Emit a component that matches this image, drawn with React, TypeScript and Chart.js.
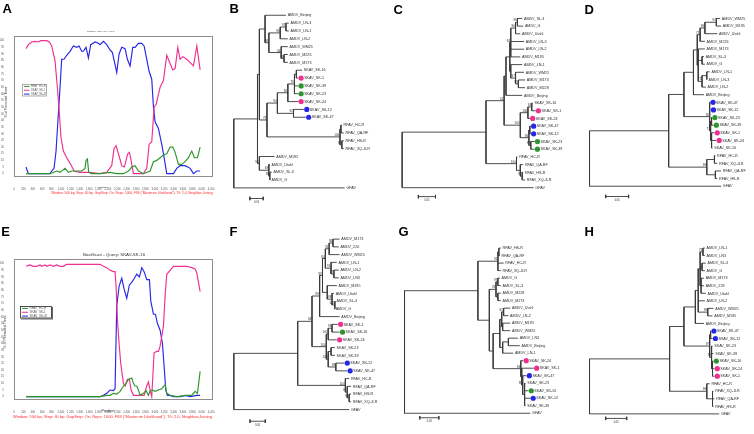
import React, { useEffect, useRef } from "react";
import { Chart, registerables } from "chart.js";
Chart.register(...registerables);

const FONT = "'Liberation Sans', Arial, Helvetica, sans-serif";
const PINK = "#f0308e";
const BLUE = "#2626e6";
const GREEN = "#2e952e";
const DOT: Record<string, string> = { p: PINK, g: GREEN, b: BLUE };

// ---------------- BootScan data ----------------
const xTickValues = [0, 200, 400, 600, 800, 1000, 1200, 1400, 1600, 1800, 2000, 2200, 2400, 2600, 2800, 3000, 3200, 3400, 3600, 3800, 4000, 4200];
const yTickValues = [0, 5, 10, 15, 20, 25, 30, 35, 40, 45, 50, 55, 60, 65, 70, 75, 80, 85, 90, 95, 100];
const legendLabels = ["RFAV_HC-R", "SKAV_SK-1", "SKAV_SK-47"];
const titleA = "BootScan - Query: SKAV_SK-39";
const titleE = "BootScan - Query: SKAV-SK-16";
const xTitle = "Position";
const yTitle = "% of Permuted Trees";
const footnote = 'Window: 500 bp, Step: 40 bp, GapStrip: On, Reps: 1000, F84 ("Maximum Likelihood"), T/t: 2.0, Neighbor-Joining';

const aGreenPos = [256, 768, 910, 981, 1087, 1158, 1229, 1372, 1443, 1514, 1535, 1564, 1592, 1656, 1834, 2047, 2189, 2331, 2438, 2509, 2580, 2651, 2757, 2900, 2971, 3042, 3113, 3184, 3255, 3326, 3383, 3433, 3504, 3575, 3646, 3717, 3788, 3845, 3909, 3966];
const aGreenVal = [0, 0, 2, 1, 4, 1, 2, 2, 2, 4, 10, 11, 1, 0, 0, 1, 0, 0, 2, 5, 6, 2, 0, 2, 9, 10, 12, 14, 15, 20, 20, 16, 7, 7, 9, 12, 17, 12, 12, 20];
const aPinkPos = [256, 306, 377, 448, 519, 569, 697, 753, 803, 874, 924, 967, 1002, 1052, 1123, 1208, 1279, 1407, 1600, 1834, 1976, 2082, 2132, 2175, 2225, 2296, 2352, 2424, 2459, 2495, 2544, 2757, 2829, 2878, 2935, 2985, 3028, 3113, 3184, 3255, 3312, 3383, 3433, 3490, 3539, 3596, 3681, 3824, 3895, 3966];
const aPinkVal = [94, 97, 99, 99.5, 99, 100, 100, 99, 96, 85, 65, 45, 27, 17, 12, 7, 2, 1, 1, 0, 1, 6, 19, 21, 15, 6, 5, 15, 16, 10, 0, 0, 4, 22, 24, 50, 52, 65, 70, 89, 84, 78, 79, 95, 86, 88, 86, 81, 96, 78];
const aBluePos = [256, 306, 768, 803, 853, 896, 945, 981, 1016, 1066, 1123, 1194, 1265, 1336, 1386, 1443, 1478, 1535, 1585, 1635, 1727, 1798, 1834, 1905, 1976, 2047, 2097, 2153, 2189, 2239, 2296, 2367, 2416, 2473, 2530, 2580, 2651, 2722, 2772, 2829, 2878, 2935, 2971, 3006, 3077, 3148, 3184, 3255, 3397, 3468, 3539, 3646, 3753, 3824, 3895, 3966];
const aBlueVal = [5, 0, 0, 2, 4, 17, 45, 65, 86, 86, 89, 92, 96, 95, 96, 92, 92, 95, 87, 97, 99, 98, 97, 99.5, 97, 93, 91, 82, 76, 90, 95, 94, 86, 81, 95, 95, 98, 98, 96, 86, 77, 71, 50, 39, 34, 22, 15, 0, 0, 4, 6, 6, 4, 0, 2, 2];

const eGreenPos = [256, 1834, 1976, 2047, 2118, 2189, 2260, 2331, 2388, 2438, 2509, 2544, 2580, 2615, 2651, 2686, 2757, 2814, 2864, 2900, 2957, 3006, 3077, 3148, 3220, 3255, 3326, 3468, 3681, 3788, 3859, 3909, 3966];
const eGreenVal = [0, 0, 1, 1, 2.5, 2, 4, 8, 10, 13, 14, 10, 8, 8, 5, 1, 2.5, 4.5, 1, 4.5, 5, 4, 5, 6, 9, 2.5, 1, 0, 1, 1, 4, 2.5, 19];
const ePinkPos = [256, 341, 412, 483, 554, 590, 661, 697, 768, 839, 910, 981, 1052, 1123, 1478, 1834, 1905, 1976, 2047, 2118, 2153, 2175, 2203, 2239, 2274, 2331, 2367, 2416, 2459, 2495, 2544, 2686, 2772, 2829, 2864, 2900, 2935, 2985, 3042, 3077, 3113, 3184, 3220, 3255, 3326, 3397, 3539, 3681, 3788, 3859, 3895, 3966];
const ePinkVal = [98, 99, 98, 98, 99, 98, 99, 98, 99, 98, 99, 98, 98, 99.5, 99.5, 99.5, 98, 97, 95, 94, 94, 83, 58, 40, 25, 10, 8, 13, 13, 5, 1, 1, 1, 8, 11, 5, 0, 33, 34, 34, 38, 53, 76, 92, 95, 98, 98, 98, 97, 96, 93, 79];
const eBluePos = [256, 1834, 1905, 1976, 2047, 2118, 2153, 2189, 2239, 2296, 2345, 2402, 2459, 2509, 2566, 2615, 2672, 2722, 2772, 2829, 2885, 2914, 2971, 3013, 3056, 3113, 3163, 3198, 3234, 3269, 3326, 3397, 3539, 3646, 3753, 3895, 3966];
const eBlueVal = [0, 0, 1, 2.5, 5, 4.5, 6, 68, 83, 89, 81, 74, 84, 86, 89, 92, 90, 97, 94, 88, 88, 72, 62, 62, 55, 50, 40, 23, 5, 1, 1, 0, 0, 1, 0, 1, 1];

// ---------------- Tree data ----------------
type TNode = { d: number; n?: string; c?: TNode[]; s?: string; dot?: string };
const leaf = (n: string, d: number, dot?: string): TNode => ({ n, d, dot });
const node = (d: number, s: string, ...c: TNode[]): TNode => ({ d, s, c });
const scaleLabel = "0.05";

const treeB = node(0, "",
  node(25, "",
    node(27, "",
      node(33, "",
        leaf("AMDV_Beijing", 55),
        node(37, "98",
          node(49, "98",
            node(55, "97", leaf("AMDV_LN-3", 58), leaf("AMDV_LN-1", 58)),
            leaf("AMDV_LN-2", 57)),
          node(50, "64",
            leaf("AMDV_WM25", 57),
            node(53, "99", leaf("AMDV_M226", 57), leaf("AMDV_M173", 57))))),
      node(35, "73",
        node(46, "94",
          node(57, "80",
            node(64, "79",
              node(66, "", leaf("SKAV_SK-16", 72), leaf("SKAV_SK-1", 68, "p")),
              leaf("SKAV_SK-39", 68, "g"),
              leaf("SKAV_SK-23", 68, "g")),
            leaf("SKAV_SK-24", 68, "p")),
          node(63, "92", leaf("SKAV_SK-12", 74, "b"), leaf("SKAV_SK-47", 76, "b"))),
        node(112, "100",
          node(113, "", leaf("RFAV_HC-R", 114), leaf("RFAV_QA-RF", 116)),
          node(114, "78", leaf("RFAV_HS-R", 116), leaf("RFAV_XQ-JLR", 116))))),
    node(27, "94",
      leaf("AMDV_M195", 43),
      node(37, "69", leaf("AMDV_Utahl", 38), node(38, "98", leaf("AMDV_SL-3", 40), leaf("AMDV_G", 38))))),
  leaf("GFAV", 117));

const treeC = node(0, "",
  node(88, "",
    node(107, "62",
      node(109, "",
        node(113, "",
          node(114, "84",
            node(119, "96", node(121, "99", leaf("AMDV_SL-3", 126), leaf("AMDV_G", 127)), leaf("AMDV_Utahl", 124)),
            leaf("AMDV_LN-3", 128), leaf("AMDV_LN-2", 128), leaf("AMDV_M195", 124)),
          node(114, "",
            leaf("AMDV_LN-1", 126),
            node(119, "97", leaf("AMDV_WM25", 128), node(122, "99", leaf("AMDV_M173", 129), leaf("AMDV_M228", 129))))),
        leaf("AMDV_Beijing", 126)),
      node(124, "100",
        node(132, "100", node(136, "93", leaf("SKAV_SK-16", 137), leaf("SKAV_SK-1", 140, "p")), leaf("SKAV_SK-24", 134, "p")),
        node(133, "96",
          node(134, "", leaf("SKAV_SK-47", 135, "b"), leaf("SKAV_SK-12", 135, "b")),
          node(135, "97", leaf("SKAV_SK-23", 139, "g"), leaf("SKAV_SK-39", 139, "g"))))),
    node(120, "100", leaf("RFAV_HC-R", 121),
      node(124, "", leaf("RFAV_QA-RF", 127), node(126, "97", leaf("RFAV_HS-R", 127), leaf("RFAV_XQ-JLR", 129))))),
  leaf("GFAV", 138));

const treeD = node(0, "",
  node(83, "",
    node(99, "",
      node(109, "",
        node(113, "",
          node(116, "75",
            node(121, "96", node(133, "97", leaf("AMDV_WM25", 137), leaf("AMDV_M195", 138)), leaf("AMDV_Utahl", 134)),
            leaf("AMDV_M226", 121)),
          node(114, "",
            leaf("AMDV_M173", 121),
            node(118, "", leaf("AMDV_SL-3", 120), leaf("AMDV_G", 121)),
            node(118, "75", node(123, "", leaf("AMDV_LN-1", 126), leaf("AMDV_LN-3", 123)), leaf("AMDV_LN-2", 122)))),
        leaf("AMDV_Beijing", 120)),
      node(126, "92",
        leaf("SKAV_SK-47", 126.5, "b"), leaf("SKAV_SK-12", 127, "b"),
        node(127, "77",
          node(128, "", leaf("SKAV_SK-23", 128.5, "g"), leaf("SKAV_SK-39", 130, "g")),
          node(128, "", leaf("SKAV_SK-1", 131, "p"), leaf("SKAV_SK-24", 133, "p"), leaf("SKAV_SK-16", 129))))),
    node(123, "99",
      node(131, "", leaf("RFAV_HC-R", 132), leaf("RFAV_XQ-JLR", 134)),
      node(132, "", leaf("RFAV_QA-RF", 138), leaf("RFAV_HS-R", 134)))),
  leaf("GFAV", 138));

const treeF = node(0, "",
  node(67, "",
    node(82, "84",
      node(90, "89",
        node(93, "89",
          node(96, "84",
            node(100, "92", node(104, "98", leaf("AMDV_M173", 111), leaf("AMDV_220", 110)), leaf("AMDV_WM25", 111)),
            node(102, "95", leaf("AMDV_LN-1", 108), node(105, "87", leaf("AMDV_LN-2", 110), leaf("AMDV_LN3", 110)))),
          node(98, "", leaf("AMDV_M195", 108),
            node(103, "98", leaf("AMDV_Utahl", 105), node(106, "100", leaf("AMDV_SL-3", 106), leaf("AMDV_G", 105))))),
        leaf("AMDV_Beijing", 111)),
      node(97, "100",
        node(99, "100", node(103, "98", leaf("SKAV_SK-1", 109, "p"), leaf("SKAV_SK-16", 111, "g")), leaf("SKAV_SK-24", 108, "p")),
        node(99, "100",
          node(102, "", leaf("SKAV_SK-23", 106), leaf("SKAV_SK-39", 106)),
          node(107, "98", leaf("SKAV_SK-12", 116, "b"), leaf("SKAV_SK-47", 119, "b"))))),
    node(117, "100", leaf("RFAV_HC-R", 121),
      node(119, "81", leaf("RFAV_QA-RF", 123), node(121, "99", leaf("RFAV_HS-R", 123), leaf("RFAV_XQ-JLR", 123))))),
  leaf("GFAV", 121));

const treeG = node(0, "",
  node(77, "",
    node(98, "91", node(99, "", leaf("RFAV_HS-R", 101), leaf("RFAV_QA-RF", 100)), leaf("RFAV_HC-R", 104), leaf("RFAV_XQ-JLR", 101)),
    node(89, "",
      node(96, "33",
        node(98, "97", leaf("AMDV_G", 100), leaf("AMDV_SL-3", 101)),
        node(98, "", leaf("AMDV_M228", 101), leaf("AMDV_M173", 101))),
      node(93, "",
        node(100, "",
          node(102, "",
            node(104, "82", leaf("AMDV_Utahl", 111), leaf("AMDV_LN-2", 109)),
            node(103, "", leaf("AMDV_M195", 111), leaf("AMDV_WM25", 111))),
          node(103, "", node(109, "", leaf("AMDV_LN3", 119), leaf("AMDV_Beijing", 121)), leaf("AMDV_LN-1", 114))),
        node(122, "94",
          leaf("SKAV_SK-24", 124.7, "p"),
          node(123, "",
            leaf("SKAV_SK-1", 135.7, "p"),
            node(124, "88",
              leaf("SKAV_SK-47", 128, "b"),
              node(126, "", leaf("SKAV_SK-23", 127), leaf("SKAV_SK-16", 130, "g"), leaf("SKAV_SK-12", 132, "b"), leaf("SKAV_SK-39", 127)))))))),
  leaf("GFAV", 132));

const treeH = node(0, "",
  node(84, "",
    node(99, "",
      node(111, "",
        node(114, "",
          node(116, "",
            node(119, "73", leaf("AMDV_LN-1", 121), leaf("AMDV_LN3", 121)),
            node(118, "", leaf("AMDV_SL-3", 122), leaf("AMDV_G", 121)),
            node(117, "", leaf("AMDV_M173", 120), leaf("AMDV_228", 120), leaf("AMDV_Utahl", 122))),
          leaf("AMDV_LN-2", 121),
          node(124, "99", leaf("AMDV_WM25", 130), leaf("AMDV_M195", 129))),
        leaf("AMDV_Beijing", 120)),
      node(126, "97",
        node(127, "", leaf("SKAV_SK-47", 127.5, "b"), leaf("SKAV_SK-12", 129, "b")),
        node(128, "76", leaf("SKAV_SK-23", 129), leaf("SKAV_SK-39", 130),
          node(129, "", leaf("SKAV_SK-16", 130, "g"), leaf("SKAV_SK-24", 131, "p"), leaf("SKAV_SK-1", 131, "p"))))),
    node(123, "99", leaf("RFAV_HC-R", 126),
      node(129, "", leaf("RFAV_XQ-JLR", 130), leaf("RFAV_QA-RF", 131), leaf("RFAV_HS-R", 130)))),
  leaf("GFAV", 136));

// scale bar lengths (tree units corresponding to 0.05)
const scaleLenB = 14, scaleLenC = 18, scaleLenD = 24, scaleLenF = 16, scaleLenG = 20, scaleLenH = 22;

// ---------------- Layout (positions / sizes / styles) ----------------
type BootLayout = {
  left: number; top: number; width: number; height: number; padTop: number; padRight: number; xAxisH: number;
  tickSize: number; xTickPad: number; titleX: number; titleY: number; titleSize: number;
  xTitleX: number; xTitleY: number; xTitleSize: number; yTitleX: number; yTitleY: number; yTitleSize: number;
  noteX: number; noteY: number; noteSize: number;
  legend: { x: number; y: number; w: number; h: number; size: number; line: number; dark: boolean };
};
const layoutA: BootLayout = {
  left: 0, top: 0, width: 222, height: 200, padTop: 36, padRight: 9, xAxisH: 23, tickSize: 2.7, xTickPad: 3,
  titleX: 101, titleY: 31, titleSize: 1.9, xTitleX: 103, xTitleY: 187.5, xTitleSize: 2.4,
  yTitleX: 6, yTitleY: 102, yTitleSize: 3.3, noteX: 132, noteY: 193.5, noteSize: 3.25,
  legend: { x: 22, y: 84, w: 25, h: 12.5, size: 2.6, line: 5.5, dark: false },
};
const layoutE: BootLayout = {
  left: 0, top: 220, width: 222, height: 205, padTop: 39, padRight: 9, xAxisH: 25, tickSize: 2.7, xTickPad: 2.5,
  titleX: 114, titleY: 35, titleSize: 4.4, xTitleX: 108, xTitleY: 191, xTitleSize: 3.6,
  yTitleX: 5, yTitleY: 112, yTitleSize: 3.5, noteX: 112.5, noteY: 197, noteSize: 4,
  legend: { x: 20, y: 86, w: 32, h: 12.5, size: 3, line: 6, dark: true },
};

type TreeLayout = { left: number; top: number; width: number; height: number; rootX: number; firstY: number; step: number; barStart: number; barDy: number };
const layoutB: TreeLayout = { left: 226, top: 0, width: 154, height: 215, rootX: 230, firstY: 11.7, step: 8.15, barStart: 17, barDy: 1.35 };
const layoutC: TreeLayout = { left: 395, top: 0, width: 170, height: 215, rootX: 398.3, firstY: 15, step: 7.99, barStart: 17, barDy: 1.16 };
const layoutD: TreeLayout = { left: 582, top: 0, width: 172, height: 215, rootX: 585.7, firstY: 15, step: 7.92, barStart: 17, barDy: 1.35 };
const layoutF: TreeLayout = { left: 226, top: 220, width: 172, height: 214, rootX: 230, firstY: 235.7, step: 8.05, barStart: 17, barDy: 1.5 };
const layoutG: TreeLayout = { left: 397, top: 220, width: 170, height: 214, rootX: 400.7, firstY: 245, step: 7.8, barStart: 16, barDy: 0.6 };
const layoutH: TreeLayout = { left: 582, top: 220, width: 172, height: 214, rootX: 585.7, firstY: 245, step: 7.83, barStart: 17, barDy: 0.6 };

const letters = [
  { t: "A", x: 2.5, y: 1.5 }, { t: "B", x: 229.5, y: 2.3 }, { t: "C", x: 393.5, y: 3.3 }, { t: "D", x: 584.5, y: 3.3 },
  { t: "E", x: 1.2, y: 225 }, { t: "F", x: 229.5, y: 225.3 }, { t: "G", x: 398.5, y: 225.3 }, { t: "H", x: 584.5, y: 225.3 },
];

// ---------------- Chart builders ----------------
function bootConfig(title: string, series: { label: string; pos: number[]; val: number[]; color: string }[], L: BootLayout): any {
  const deco = {
    id: "bootDeco",
    afterDraw(chart: any) {
      const ctx = chart.ctx as CanvasRenderingContext2D;
      const a = chart.chartArea;
      ctx.save();
      ctx.strokeStyle = "#8e8e8e";
      ctx.lineWidth = 1;
      ctx.strokeRect(a.left + 0.5, a.top + 0.5, a.right - a.left - 1, a.bottom - a.top - 1);
      ctx.fillStyle = "#333";
      ctx.textAlign = "center";
      ctx.textBaseline = "middle";
      ctx.font = `${L.titleSize}px ${FONT}`;
      ctx.fillText(title, L.titleX, L.titleY);
      ctx.font = `${L.xTitleSize}px ${FONT}`;
      ctx.fillText(xTitle, L.xTitleX, L.xTitleY);
      ctx.save();
      ctx.translate(L.yTitleX, L.yTitleY);
      ctx.rotate(-Math.PI / 2);
      ctx.font = `${L.yTitleSize}px ${FONT}`;
      ctx.fillText(yTitle, 0, 0);
      ctx.restore();
      ctx.fillStyle = "#ff2b2b";
      ctx.font = `${L.noteSize}px ${FONT}`;
      ctx.fillText(footnote, L.noteX, L.noteY);
      // legend
      const g = L.legend;
      if (g.dark) {
        ctx.fillStyle = "#666";
        ctx.fillRect(g.x + 1, g.y + 1, g.w, g.h);
      }
      ctx.fillStyle = "#fff";
      ctx.fillRect(g.x, g.y, g.w, g.h);
      ctx.strokeStyle = g.dark ? "#222" : "#9a9a9a";
      ctx.lineWidth = 0.8;
      ctx.strokeRect(g.x + 0.5, g.y + 0.5, g.w - 1, g.h - 1);
      const ds = chart.data.datasets;
      const row = (g.h - 1) / ds.length;
      ds.forEach((d: any, i: number) => {
        const yy = g.y + 0.5 + row * (i + 0.5);
        ctx.strokeStyle = d.borderColor;
        ctx.lineWidth = 1;
        ctx.beginPath();
        ctx.moveTo(g.x + 2, yy);
        ctx.lineTo(g.x + 2 + g.line, yy);
        ctx.stroke();
        ctx.fillStyle = "#555";
        ctx.textAlign = "left";
        ctx.font = `${g.size}px ${FONT}`;
        ctx.fillText(d.label, g.x + 3.5 + g.line, yy);
      });
      ctx.restore();
    },
  };
  const tickFont = { family: FONT, size: L.tickSize };
  return {
    type: "line",
    data: {
      datasets: series.map((s) => ({
        label: s.label,
        data: s.pos.map((x, i) => ({ x, y: s.val[i] })),
        borderColor: s.color,
        backgroundColor: s.color,
        borderWidth: 1.15,
        pointRadius: 0,
        tension: 0,
        fill: false,
      })),
    },
    options: {
      animation: false,
      responsive: false,
      maintainAspectRatio: false,
      devicePixelRatio: 1,
      events: [],
      layout: { padding: { top: L.padTop, right: L.padRight, left: 0, bottom: 0 } },
      plugins: { legend: { display: false }, tooltip: { enabled: false }, title: { display: false } },
      scales: {
        x: {
          type: "linear", min: 0, max: 4240,
          grid: { display: false }, border: { display: false },
          afterBuildTicks: (s: any) => { s.ticks = xTickValues.map((v) => ({ value: v })); },
          afterFit: (s: any) => { s.height = L.xAxisH; },
          ticks: {
            autoSkip: false, maxRotation: 0, minRotation: 0, padding: L.xTickPad, color: "#555", font: tickFont,
            callback: (v: any) => Number(v).toLocaleString("en-US"),
          },
        },
        y: {
          type: "linear", min: -2.5, max: 103.5,
          grid: { display: false }, border: { display: false },
          afterBuildTicks: (s: any) => { s.ticks = yTickValues.map((v) => ({ value: v })); },
          afterFit: (s: any) => { s.width = 14; },
          ticks: { autoSkip: false, padding: 2, color: "#555", font: tickFont, callback: (v: any) => String(v) },
        },
      },
    },
    plugins: [deco],
  };
}

function treeConfig(root: TNode, scaleLen: number, L: TreeLayout): any {
  const Y = new Map<TNode, number>();
  const leaves: TNode[] = [];
  const internals: TNode[] = [];
  const walk = (n: TNode) => {
    if (!n.c) { Y.set(n, leaves.length); leaves.push(n); return; }
    n.c.forEach(walk);
    internals.push(n);
    Y.set(n, (Y.get(n.c[0])! + Y.get(n.c[n.c.length - 1])!) / 2);
  };
  walk(root);
  const GAP = { x: null, y: null };
  const branches: any[] = [];
  const segs = (n: TNode) => {
    if (!n.c) return;
    const ys = n.c.map((k) => Y.get(k)!);
    branches.push({ x: n.d, y: Math.min(...ys) }, { x: n.d, y: Math.max(...ys) }, GAP);
    n.c.forEach((k) => {
      branches.push({ x: n.d, y: Y.get(k)! }, { x: k.d, y: Y.get(k)! }, GAP);
      segs(k);
    });
  };
  segs(root);
  const yb = leaves.length - 1 + L.barDy;
  const s0 = L.barStart, s1 = L.barStart + scaleLen;
  const bar = [
    { x: s0, y: yb - 0.22 }, { x: s0, y: yb + 0.22 }, GAP,
    { x: s0, y: yb }, { x: s1, y: yb }, GAP,
    { x: s1, y: yb - 0.22 }, { x: s1, y: yb + 0.22 },
  ];
  const dotted = leaves.filter((l) => l.dot);
  const xOff = L.rootX - L.left;
  const yMin = -(L.firstY - L.top) / L.step;
  const labels = {
    id: "treeLabels",
    afterDatasetsDraw(chart: any) {
      const ctx = chart.ctx as CanvasRenderingContext2D;
      const xs = chart.scales.x, ysc = chart.scales.y;
      ctx.save();
      ctx.fillStyle = "#2e2e2e";
      ctx.textAlign = "left";
      ctx.textBaseline = "middle";
      ctx.font = `3.7px ${FONT}`;
      leaves.forEach((l) => {
        const px = xs.getPixelForValue(l.d + (l.dot ? 6.2 : 1.8));
        const py = ysc.getPixelForValue(Y.get(l)!);
        ctx.fillText(l.n!, px, py + 0.2);
      });
      ctx.font = `3px ${FONT}`;
      ctx.textAlign = "right";
      ctx.textBaseline = "bottom";
      internals.forEach((n) => {
        if (!n.s) return;
        ctx.fillText(n.s, xs.getPixelForValue(n.d) - 0.7, ysc.getPixelForValue(Y.get(n)!) - 0.2);
      });
      ctx.font = `2.6px ${FONT}`;
      ctx.textAlign = "center";
      ctx.textBaseline = "top";
      ctx.fillText(scaleLabel, xs.getPixelForValue((s0 + s1) / 2), ysc.getPixelForValue(yb) + 2.5);
      ctx.restore();
    },
  };
  return {
    type: "line",
    data: {
      datasets: [
        { data: branches, borderColor: "#3a3a3a", borderWidth: 0.9, pointRadius: 0, spanGaps: false, tension: 0, fill: false },
        { data: bar, borderColor: "#3a3a3a", borderWidth: 0.9, pointRadius: 0, spanGaps: false, tension: 0, fill: false },
        {
          data: dotted.map((l) => ({ x: l.d + 3, y: Y.get(l)! })),
          showLine: false, pointRadius: 2.6, pointBorderWidth: 0,
          pointBackgroundColor: dotted.map((l) => DOT[l.dot!]),
          borderColor: "rgba(0,0,0,0)",
        },
      ],
    },
    options: {
      animation: false,
      responsive: false,
      maintainAspectRatio: false,
      devicePixelRatio: 1,
      events: [],
      layout: { padding: 0 },
      plugins: { legend: { display: false }, tooltip: { enabled: false } },
      scales: {
        x: { type: "linear", display: false, min: -xOff, max: L.width - xOff },
        y: { type: "linear", display: false, min: yMin, max: yMin + L.height / L.step, reverse: true },
      },
    },
    plugins: [labels],
  };
}

function ChartCanvas(props: { left: number; top: number; width: number; height: number; make: () => any }) {
  const ref = useRef<HTMLCanvasElement>(null);
  useEffect(() => {
    const chart = new Chart(ref.current!, props.make());
    return () => chart.destroy();
  }, []);
  return (
    <canvas
      ref={ref}
      width={props.width}
      height={props.height}
      style={{ position: "absolute", left: props.left, top: props.top, width: props.width, height: props.height }}
    />
  );
}

const seriesA = [
  { label: legendLabels[0], pos: aGreenPos, val: aGreenVal, color: GREEN },
  { label: legendLabels[1], pos: aPinkPos, val: aPinkVal, color: PINK },
  { label: legendLabels[2], pos: aBluePos, val: aBlueVal, color: BLUE },
];
const seriesE = [
  { label: legendLabels[0], pos: eGreenPos, val: eGreenVal, color: GREEN },
  { label: legendLabels[1], pos: ePinkPos, val: ePinkVal, color: PINK },
  { label: legendLabels[2], pos: eBluePos, val: eBlueVal, color: BLUE },
];

const trees: { t: TNode; len: number; L: TreeLayout }[] = [
  { t: treeB, len: scaleLenB, L: layoutB },
  { t: treeC, len: scaleLenC, L: layoutC },
  { t: treeD, len: scaleLenD, L: layoutD },
  { t: treeF, len: scaleLenF, L: layoutF },
  { t: treeG, len: scaleLenG, L: layoutG },
  { t: treeH, len: scaleLenH, L: layoutH },
];

export default function App() {
  return (
    <div style={{ position: "fixed", left: 0, top: 0, width: 754, height: 434, background: "#fff", overflow: "hidden" }}>
      <ChartCanvas left={layoutA.left} top={layoutA.top} width={layoutA.width} height={layoutA.height} make={() => bootConfig(titleA, seriesA, layoutA)} />
      <ChartCanvas left={layoutE.left} top={layoutE.top} width={layoutE.width} height={layoutE.height} make={() => bootConfig(titleE, seriesE, layoutE)} />
      {trees.map((tr, i) => (
        <ChartCanvas key={i} left={tr.L.left} top={tr.L.top} width={tr.L.width} height={tr.L.height} make={() => treeConfig(tr.t, tr.len, tr.L)} />
      ))}
      {letters.map((l) => (
        <div key={l.t} style={{ position: "absolute", left: l.x, top: l.y, font: `bold 13px ${FONT}`, lineHeight: "13px", color: "#000" }}>
          {l.t}
        </div>
      ))}
    </div>
  );
}
